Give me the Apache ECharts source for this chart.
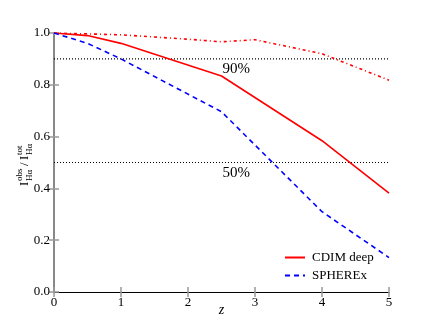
<!DOCTYPE html>
<html><head><meta charset="utf-8">
<script src="https://cdn.jsdelivr.net/npm/echarts@6/dist/echarts.min.js"></script>
<style>html,body{margin:0;padding:0;background:#fff}#c{width:432px;height:324px}</style>
</head><body><div id="c"></div>
<script>
var zCdim = [0, 0.5, 1, 2.5, 4, 5];
var cdimDeep = [1.0, 0.99, 0.96, 0.834, 0.584, 0.382];
var zSph = [0, 0.5, 1, 2.5, 4, 5];
var spherex = [1.0, 0.96, 0.9, 0.696, 0.31, 0.133];
var zDot = [0, 1, 2, 2.5, 3, 4, 5];
var cdimDot = [1.0, 0.993, 0.976, 0.966, 0.974, 0.92, 0.818];
var refLevels = [0.9, 0.5];
var refLabels = ['90%', '50%'];
var refLabelZ = 2.72;
var xTicks = [0, 1, 2, 3, 4, 5];
var yTicks = [0, 0.2, 0.4, 0.6, 0.8, 1.0];

function pairs(xs, ys){ return xs.map(function(x,i){return [x, ys[i]];}); }
var FONT = 'Liberation Serif';
var chart = echarts.init(document.getElementById('c'));
var tickStyle = {show:true, inside:true, length:5, lineStyle:{color:'#999', width:1.5}};
var series = [
  {name:'CDIM deep', type:'line', data:pairs(zCdim, cdimDeep), symbol:'none', lineStyle:{color:'#ff0000', width:1.6}, itemStyle:{color:'#ff0000'}, z:5},
  {name:'SPHEREx', type:'line', data:pairs(zSph, spherex), symbol:'none', lineStyle:{color:'#0000ff', width:1.6, type:[5,4]}, itemStyle:{color:'#0000ff'}, z:5},
  {name:'dotdash', type:'line', data:pairs(zDot, cdimDot), symbol:'none', lineStyle:{color:'#ff0000', width:1.6, type:[3,3,1,3]}, z:4}
];
refLevels.forEach(function(v,i){
  series.push({name:'ref'+i, type:'line', data:[[0,v],[5,v]], symbol:'none', silent:true,
    lineStyle:{color:'#000', width:1.2, type:[1,2]}, z:3});
});
var graphics = [{
    type:'group', x:25, y:157, rotation:Math.PI/2,
    children:[
      {type:'text', x:-29, y:0, style:{text:'I', font:'13px "Liberation Serif"', fill:'#000', verticalAlign:'middle'}},
      {type:'text', x:-24, y:-5, style:{text:'obs', font:'9px "Liberation Serif"', fill:'#000', verticalAlign:'middle'}},
      {type:'text', x:-24, y:5, style:{text:'H\u03b1', font:'9px "Liberation Serif"', fill:'#000', verticalAlign:'middle'}},
      {type:'text', x:-9, y:0, style:{text:'/', font:'13px "Liberation Serif"', fill:'#000', verticalAlign:'middle'}},
      {type:'text', x:-3, y:0, style:{text:'I', font:'13px "Liberation Serif"', fill:'#000', verticalAlign:'middle'}},
      {type:'text', x:2, y:-5, style:{text:'tot', font:'9px "Liberation Serif"', fill:'#000', verticalAlign:'middle'}},
      {type:'text', x:2, y:5, style:{text:'H\u03b1', font:'9px "Liberation Serif"', fill:'#000', verticalAlign:'middle'}}
    ]
  }];
chart.setOption({
  animation:false,
  grid:{left:54, right:43, top:33, bottom:32, containLabel:false, outerBoundsMode:'none'},
  xAxis:[
    {type:'value', min:0, max:5, interval:1, position:'bottom',
     axisLine:{show:true, lineStyle:{color:'#000', width:1}}, axisTick:tickStyle, splitLine:{show:false},
     axisLabel:{color:'#000', fontFamily:FONT, fontSize:13, margin:4, formatter:function(v){return xTicks.indexOf(v)>=0? String(v):'';}}},
    {type:'value', min:0, max:5, interval:1, position:'top',
     axisLine:{show:true, lineStyle:{color:'#000', width:1}}, axisTick:tickStyle, axisLabel:{show:false}, splitLine:{show:false}}
  ],
  yAxis:[
    {type:'value', min:0, max:1, interval:0.2, position:'left',
     axisLine:{show:true, lineStyle:{color:'#888', width:2}}, axisTick:tickStyle, splitLine:{show:false},
     axisLabel:{color:'#000', fontFamily:FONT, fontSize:13, margin:4, formatter:function(v){return v.toFixed(1);}}},
    {type:'value', min:0, max:1, interval:0.2, position:'right',
     axisLine:{show:true, lineStyle:{color:'#888', width:2}}, axisTick:tickStyle, axisLabel:{show:false}, splitLine:{show:false}}
  ],
  legend:{data:['CDIM deep','SPHEREx'], orient:'vertical', left:279, top:246, itemWidth:20, itemHeight:12, itemGap:5,
    itemStyle:{opacity:0},
    textStyle:{fontFamily:FONT, fontSize:13, color:'#000', padding:[0,0,0,2]}},
  series:series
});
// axis name and reference labels placed through the axis scales
var bottomPt = chart.convertToPixel({xAxisIndex:0, yAxisIndex:0}, [2.5, 0]);
graphics.push({type:'text', x:bottomPt[0], y:bottomPt[1]+18,
  style:{text:'z', font:'italic 14px "Liberation Serif"', fill:'#000', align:'center', verticalAlign:'middle'}});
refLevels.forEach(function(v,i){
  var p = chart.convertToPixel({xAxisIndex:0, yAxisIndex:0}, [refLabelZ, v]);
  graphics.push({type:'text', x:p[0], y:p[1]+3, z:10,
    style:{text:refLabels[i], font:'15px "Liberation Serif"', fill:'#000', align:'center', verticalAlign:'top'}});
});
chart.setOption({graphic:graphics});
</script></body></html>
